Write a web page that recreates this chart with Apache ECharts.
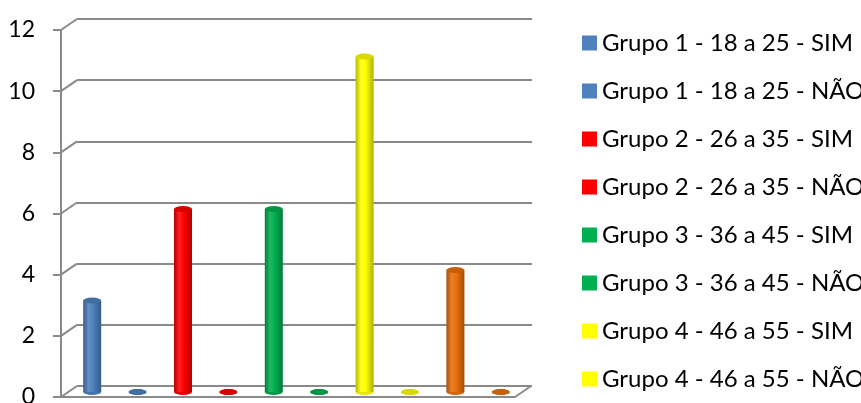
<!DOCTYPE html>
<html>
<head>
<meta charset="utf-8">
<script src="https://cdn.jsdelivr.net/npm/echarts@6/dist/echarts.min.js"></script>
<style>
html,body{margin:0;padding:0;background:#fff;}
#chart{width:861px;height:403px;}
</style>
</head>
<body>
<div id="chart"></div>
<script>
const seriesNames = [
  'Grupo 1 - 18 a 25 - SIM', 'Grupo 1 - 18 a 25 - NÃO',
  'Grupo 2 - 26 a 35 - SIM', 'Grupo 2 - 26 a 35 - NÃO',
  'Grupo 3 - 36 a 45 - SIM', 'Grupo 3 - 36 a 45 - NÃO',
  'Grupo 4 - 46 a 55 - SIM', 'Grupo 4 - 46 a 55 - NÃO',
  'Grupo 5 - 56 a 65 - SIM', 'Grupo 5 - 56 a 65 - NÃO'
];
const values = [3, 0, 6, 0, 6, 0, 11, 0, 4, 0];
const yTicks = [0, 2, 4, 6, 8, 10, 12];
const yMax = 12;
const yInterval = 2;

const baseColors = ['#4F81BD','#4F81BD','#FF0000','#FF0000','#00B050','#00B050','#FFFF00','#FFFF00','#E8700A','#E8700A'];

function shade(hex, f) {
  const n = parseInt(hex.slice(1), 16);
  let r = (n >> 16) & 255, g = (n >> 8) & 255, b = n & 255;
  if (f < 0) { r = r * (1 + f); g = g * (1 + f); b = b * (1 + f); }
  else { r = r + (255 - r) * f; g = g + (255 - g) * f; b = b + (255 - b) * f; }
  return 'rgb(' + Math.round(r) + ',' + Math.round(g) + ',' + Math.round(b) + ')';
}
function bodyGrad(c) {
  return new echarts.graphic.LinearGradient(0, 0, 1, 0, [
    { offset: 0, color: shade(c, -0.28) },
    { offset: 0.3, color: shade(c, 0.12) },
    { offset: 0.55, color: c },
    { offset: 1, color: shade(c, -0.3) }
  ]);
}

const gridColor = '#8a8a8a';
const categories = seriesNames.map((n, i) => String(i));

const chart = echarts.init(document.getElementById('chart'), null, { renderer: 'canvas' });

const barSeries = seriesNames.map((name, i) => ({
  name: name,
  type: 'bar',
  xAxisIndex: 2, yAxisIndex: 2,
  stack: 'all',
  barWidth: 18,
  itemStyle: { color: bodyGrad(baseColors[i]) },
  data: values.map((v, j) => (j === i ? v : '-')),
  z: 3,
  silent: true
}));

const option = {
  animation: false,
  backgroundColor: '#ffffff',
  grid: [
    { left: 77, top: 19, width: 455, height: 367, outerBoundsMode: 'none', containLabel: false },   // back wall
    { left: 61, top: 30, width: 454, height: 367, outerBoundsMode: 'none', containLabel: false },   // front axis
    { left: 69.5, top: 26, width: 454, height: 366, outerBoundsMode: 'none', containLabel: false }  // bars
  ],
  xAxis: [
    { gridIndex: 0, type: 'value', min: 0, max: 1, show: false },
    { gridIndex: 1, type: 'value', min: 0, max: 1,
      axisLine: { show: true, lineStyle: { color: gridColor, width: 2 } },
      axisTick: { show: false }, axisLabel: { show: false }, splitLine: { show: false } },
    { gridIndex: 2, type: 'category', data: categories, show: false }
  ],
  yAxis: [
    { gridIndex: 0, type: 'value', min: 0, max: yMax, interval: yInterval,
      axisLine: { show: false }, axisTick: { show: false }, axisLabel: { show: false },
      splitLine: { show: true, lineStyle: { color: gridColor, width: 2 } } },
    { gridIndex: 1, type: 'value', min: 0, max: yMax, interval: yInterval,
      axisLine: { show: true, lineStyle: { color: gridColor, width: 2 } },
      axisTick: { show: true, length: 8, lineStyle: { color: gridColor, width: 2 } },
      axisLabel: { show: true, margin: 26, color: '#000', fontSize: 23, fontFamily: 'Lato' },
      splitLine: { show: false } },
    { gridIndex: 2, type: 'value', min: 0, max: yMax, show: false }
  ],
  legend: {
    orient: 'vertical',
    left: 582, top: 31,
    height: 700,
    padding: 0,
    itemWidth: 15, itemHeight: 15,
    itemGap: 24,
    icon: 'rect',
    textStyle: { fontFamily: 'Lato', fontSize: 24, color: '#000', lineHeight: 24 },
    data: seriesNames.map((n, i) => ({ name: n, itemStyle: { color: baseColors[i] } }))
  },
  series: [
    {
      type: 'custom',
      xAxisIndex: 1, yAxisIndex: 1,
      silent: true,
      z: 1,
      data: yTicks.map(t => [0, t]).concat([[1, 0]]),
      renderItem: function (params, api) {
        const p = api.coord([api.value(0), api.value(1)]);
        return {
          type: 'line',
          shape: { x1: p[0], y1: p[1], x2: p[0] + 16, y2: p[1] - 11 },
          style: { stroke: gridColor, lineWidth: 2 }
        };
      }
    },
    ...barSeries,
    {
      type: 'pictorialBar',
      xAxisIndex: 2, yAxisIndex: 2,
      symbol: 'circle',
      symbolSize: [18, 6],
      symbolPosition: 'start',
      symbolOffset: [0, '50%'],
      silent: true,
      z: 2,
      data: values.map((v, i) => ({ value: v, itemStyle: { color: shade(baseColors[i], -0.1) } }))
    },
    {
      type: 'pictorialBar',
      xAxisIndex: 2, yAxisIndex: 2,
      symbol: 'circle',
      symbolSize: [18, 6],
      symbolPosition: 'end',
      symbolOffset: [0, '-50%'],
      silent: true,
      z: 4,
      data: values.map((v, i) => ({ value: v, itemStyle: { color: shade(baseColors[i], -0.15) } }))
    }
  ]
};
chart.setOption(option);
</script>
</body>
</html>
